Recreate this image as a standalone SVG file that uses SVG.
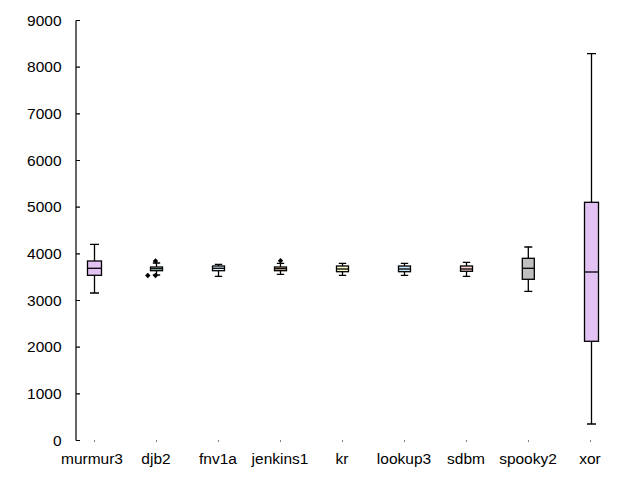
<svg xmlns="http://www.w3.org/2000/svg" width="640" height="480" viewBox="0 0 640 480">
<style>
text{font-family:"Liberation Sans",Arial,sans-serif;font-size:15.5px;fill:#000}
.yl{text-anchor:end}
.xl{text-anchor:middle}
.ax{stroke:#000;stroke-width:1.2;fill:none}
.w{stroke:#000;stroke-width:1.3;fill:none}
.b{stroke:#000;stroke-width:1.3}
.o{fill:#000}
</style>
<rect width="640" height="480" fill="#fff"/>
<g id="axis">
<path class="ax" d="M76,20.5V440.5M76,20.5h4M76,67.2h4M76,113.8h4M76,160.5h4M76,207.2h4M76,253.8h4M76,300.5h4M76,347.2h4M76,393.8h4M76,440.5h4"/>
<text class="yl" x="61.5" y="25.5">9000</text>
<text class="yl" x="61.5" y="72.2">8000</text>
<text class="yl" x="61.5" y="118.8">7000</text>
<text class="yl" x="61.5" y="165.5">6000</text>
<text class="yl" x="61.5" y="212.2">5000</text>
<text class="yl" x="61.5" y="258.8">4000</text>
<text class="yl" x="61.5" y="305.5">3000</text>
<text class="yl" x="61.5" y="352.2">2000</text>
<text class="yl" x="61.5" y="398.8">1000</text>
<text class="yl" x="61.5" y="445.5">0</text>
<g class="o">
<rect x="94" y="440.5" width="1" height="1"/>
<rect x="156" y="440.5" width="1" height="1"/>
<rect x="218" y="440.5" width="1" height="1"/>
<rect x="280" y="440.5" width="1" height="1"/>
<rect x="342" y="440.5" width="1" height="1"/>
<rect x="404" y="440.5" width="1" height="1"/>
<rect x="466" y="440.5" width="1" height="1"/>
<rect x="528" y="440.5" width="1" height="1"/>
<rect x="590" y="440.5" width="1" height="1"/>
</g>
<text class="xl" x="92" y="464">murmur3</text>
<text class="xl" x="156" y="464">djb2</text>
<text class="xl" x="218" y="464">fnv1a</text>
<text class="xl" x="280" y="464">jenkins1</text>
<text class="xl" x="342" y="464">kr</text>
<text class="xl" x="404" y="464">lookup3</text>
<text class="xl" x="466" y="464">sdbm</text>
<text class="xl" x="528" y="464">spooky2</text>
<text class="xl" x="590" y="464">xor</text>
</g>
<g id="murmur3">
<path class="w" d="M94.5,244.3V261M94.5,275.3V293M90,244.3h9M90,293h9"/>
<rect class="b" x="87.5" y="261" width="14" height="14.3" fill="#e2c2f2"/>
<path class="w" d="M87.5,268.3h14"/>
</g>
<g id="djb2">
<path class="w" d="M156.5,263V267M156.5,270.7V275M152.8,263h7.4M152.8,275h7.4"/>
<rect class="b" x="150.5" y="267" width="12" height="3.7" fill="#c2f0dc"/>
<path class="w" d="M150.5,268.7h12"/>
<path class="o" d="M155.5,258.3l2.7,2.7l-2.7,2.7l-2.7,-2.7z M155.5,272.8l2.7,2.7l-2.7,2.7l-2.7,-2.7z M147.8,272.8l2.7,2.7l-2.7,2.7l-2.7,-2.7z"/>
</g>
<g id="fnv1a">
<path class="w" d="M218.5,264.3V266M218.5,270.7V276.3M214.8,264.3h7.4M214.8,276.3h7.4"/>
<rect class="b" x="212.5" y="266" width="12" height="4.7" fill="#e2f0fc"/>
<path class="w" d="M212.5,268.3h12"/>
</g>
<g id="jenkins1">
<path class="w" d="M280.5,263.3V267M280.5,270.7V274.3M276.8,263.3h7.4M276.8,274.3h7.4"/>
<rect class="b" x="274.5" y="267" width="12" height="3.7" fill="#ffe2b8"/>
<path class="w" d="M274.5,268.7h12"/>
<path class="o" d="M280.5,258l2.7,2.7l-2.7,2.7l-2.7,-2.7z"/>
</g>
<g id="kr">
<path class="w" d="M342.5,263.3V266M342.5,271.7V275.3M338.8,263.3h7.4M338.8,275.3h7.4"/>
<rect class="b" x="336.5" y="266" width="12" height="5.7" fill="#fdfcc8"/>
<path class="w" d="M336.5,269h12"/>
</g>
<g id="lookup3">
<path class="w" d="M404.5,263.3V266M404.5,271.7V275.3M400.8,263.3h7.4M400.8,275.3h7.4"/>
<rect class="b" x="398.5" y="266" width="12" height="5.7" fill="#c4e2f6"/>
<path class="w" d="M398.5,269h12"/>
</g>
<g id="sdbm">
<path class="w" d="M466.5,262.3V266M466.5,271.3V276.3M462.8,262.3h7.4M462.8,276.3h7.4"/>
<rect class="b" x="460.5" y="266" width="12" height="5.3" fill="#fcd2d4"/>
<path class="w" d="M460.5,269h12"/>
</g>
<g id="spooky2">
<path class="w" d="M528.3,247V258.3M528.3,279.3V291.3M524.3,247h8M524.3,291.3h8"/>
<rect class="b" x="522.3" y="258.3" width="12" height="21" fill="#c0c0c0"/>
<path class="w" d="M522.3,268.3h12"/>
</g>
<g id="xor">
<path class="w" d="M591.5,53.7V202.3M591.5,341.3V424M587,53.7h9M587,424h9"/>
<rect class="b" x="584.5" y="202.3" width="14" height="139" fill="#e2c2f2"/>
<path class="w" d="M584.5,272h14"/>
</g>
</svg>
